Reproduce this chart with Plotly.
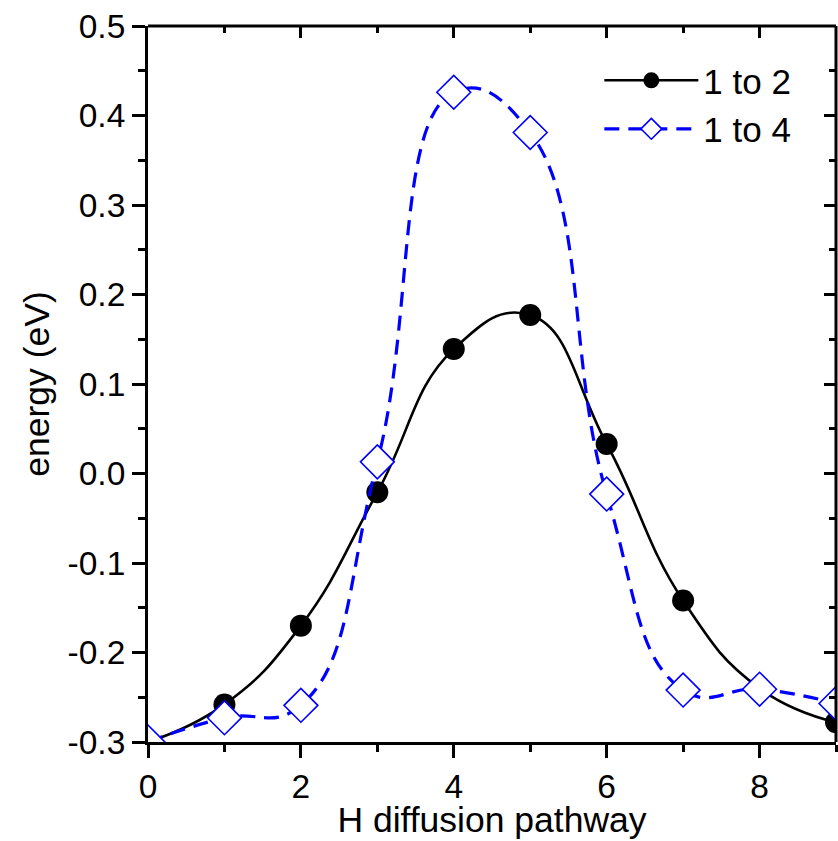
import plotly.graph_objects as go

pathway = [0, 1, 2, 3, 4, 5, 6, 7, 8, 9]
energy_1to2 = [-0.300, -0.258, -0.170, -0.021, 0.139, 0.177, 0.033, -0.142, -0.240, -0.278]
energy_1to4 = [-0.300, -0.273, -0.259, 0.013, 0.426, 0.381, -0.023, -0.242, -0.241, -0.257]
x_ticks = [0, 2, 4, 6, 8]
y_ticks = [-0.3, -0.2, -0.1, 0.0, 0.1, 0.2, 0.3, 0.4, 0.5]
y_ticktext = ["-0.3", "-0.2", "-0.1", "0.0", "0.1", "0.2", "0.3", "0.4", "0.5"]

FONT = "Liberation Sans, Arial, sans-serif"

fig = go.Figure()
fig.add_trace(go.Scatter(
    x=pathway, y=energy_1to2, name="1 to 2", mode="lines+markers",
    line=dict(color="black", width=2.6, shape="spline", smoothing=1.3),
    marker=dict(symbol="circle", size=22, color="black"),
))
fig.add_trace(go.Scatter(
    x=pathway, y=energy_1to4, name="1 to 4", mode="lines+markers",
    line=dict(color="#0000ff", width=3.2, dash="15px,9px", shape="spline", smoothing=1.3),
    marker=dict(symbol="diamond", size=26, color="white",
                line=dict(width=1.6, color="#0000ff")),
))
# invisible trace for mirrored (inward-ticked) top/right axes
fig.add_trace(go.Scatter(
    x=[pathway[0]], y=[energy_1to2[0]], xaxis="x2", yaxis="y2", mode="markers",
    marker=dict(opacity=0), showlegend=False, hoverinfo="skip",
))

axis_common = dict(linecolor="black", linewidth=3, showgrid=False,
                   zeroline=False, tickcolor="black", tickwidth=2.5, automargin=False,
                   ticklabeloverflow="allow",
                   tickfont=dict(family=FONT, size=33.5, color="black"))

fig.update_layout(
    width=838, height=840,
    margin=dict(l=147.5, r=2, t=25.5, b=97.5),
    paper_bgcolor="white", plot_bgcolor="white",
    font=dict(family=FONT, size=33.5, color="black"),
    xaxis=dict(range=[0, 9], tickvals=x_ticks, ticks="outside", ticklen=13,
               showline=True,
               minor=dict(dtick=1, tick0=0, ticks="outside", ticklen=7,
                          tickwidth=2.5, tickcolor="black"),
               title=dict(text="H diffusion pathway", standoff=12,
                          font=dict(family=FONT, size=35.5)),
               **axis_common),
    yaxis=dict(range=[-0.3, 0.5], tickvals=y_ticks, ticktext=y_ticktext,
               ticks="outside", ticklen=13, showline=True,
               minor=dict(dtick=0.05, tick0=0, ticks="outside", ticklen=7,
                          tickwidth=2.5, tickcolor="black"),
               title=dict(text="energy (eV)", standoff=8,
                          font=dict(family=FONT, size=35.5)),
               **axis_common),
    xaxis2=dict(range=[0, 9], overlaying="x", side="top", anchor="y2",
                tickvals=x_ticks, ticks="inside", ticklen=12, showticklabels=False,
                showline=False,
                minor=dict(dtick=1, tick0=0, ticks="inside", ticklen=7,
                           tickwidth=2.5, tickcolor="black"),
                **axis_common),
    yaxis2=dict(range=[-0.3, 0.5], overlaying="y", side="right", anchor="x2",
                tickvals=y_ticks, ticks="inside", ticklen=12, showticklabels=False,
                showline=False,
                minor=dict(dtick=0.05, tick0=0, ticks="inside", ticklen=7,
                           tickwidth=2.5, tickcolor="black"),
                **axis_common),
    legend=dict(x=0.656, y=0.965, xanchor="left", yanchor="top",
                bgcolor="rgba(0,0,0,0)", font=dict(family=FONT, size=35),
                itemwidth=94),
    showlegend=True,
)

# frame: top and right edges of the plotting area
fig.add_shape(type="line", xref="paper", yref="paper", x0=0, x1=1, y0=1, y1=1,
              line=dict(color="black", width=3), layer="above")
fig.add_shape(type="line", xref="paper", yref="paper", x0=1, x1=1, y0=0, y1=1,
              line=dict(color="black", width=3), layer="above")

fig.write_html(
    "out.html",
    config={"displayModeBar": False},
    post_script="document.body.style.margin='0';document.body.style.overflow='hidden';",
)
